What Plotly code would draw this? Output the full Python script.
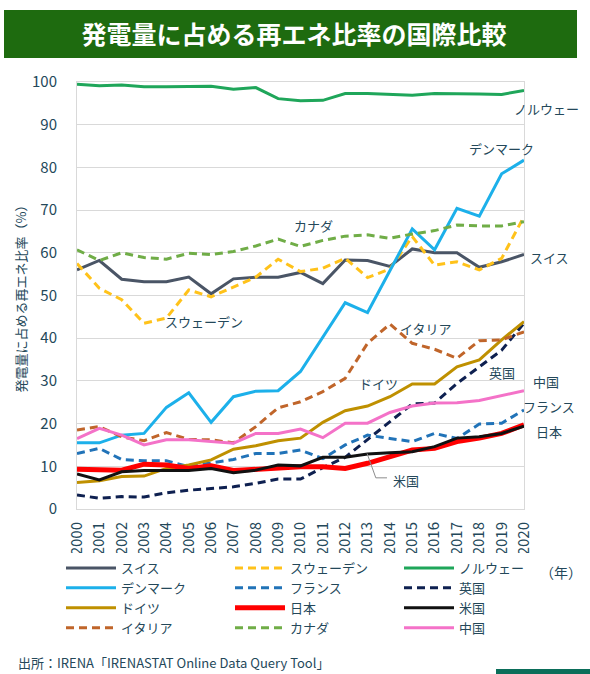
import plotly.graph_objects as go

# Share of renewables in electricity generation (%)
YEARS = list(range(2000, 2021))

SWITZERLAND = [56.0, 58.2, 53.8, 53.2, 53.2, 54.3, 50.4, 53.9, 54.3, 54.3, 55.4,
               52.8, 58.3, 58.2, 56.8, 60.9, 60.0, 60.0, 56.6, 57.9, 59.6]
SWEDEN = [57.5, 51.7, 49.0, 43.5, 44.7, 51.3, 49.7, 52.0, 54.3, 58.5, 55.6,
          56.4, 58.7, 54.2, 56.2, 63.8, 57.1, 57.9, 56.0, 58.7, 68.5]
NORWAY = [99.5, 99.1, 99.3, 98.9, 98.9, 98.9, 99.0, 98.3, 98.7, 96.1, 95.6,
          95.7, 97.3, 97.3, 97.1, 96.9, 97.3, 97.3, 97.2, 97.1, 98.0]
DENMARK = [15.5, 15.5, 17.3, 17.7, 23.8, 27.2, 20.3, 26.3, 27.6, 27.7, 32.2,
           40.2, 48.3, 46.0, 55.8, 65.6, 60.7, 70.4, 68.6, 78.5, 81.7]
FRANCE = [13.0, 14.2, 11.6, 11.3, 11.3, 9.9, 10.8, 11.6, 13.0, 13.0, 13.8,
          11.8, 15.0, 17.3, 16.5, 15.8, 17.7, 16.5, 19.9, 20.1, 23.2]
UK = [3.3, 2.5, 2.9, 2.8, 3.8, 4.4, 4.8, 5.2, 6.0, 7.0, 7.0,
      9.7, 12.1, 16.2, 20.5, 24.6, 24.8, 29.4, 33.3, 37.2, 43.5]
GERMANY = [6.2, 6.6, 7.6, 7.7, 9.5, 10.3, 11.5, 14.0, 14.8, 16.0, 16.6,
           20.3, 23.0, 24.1, 26.3, 29.3, 29.3, 33.3, 34.9, 39.6, 43.9]
JAPAN = [9.3, 9.1, 9.1, 10.5, 10.3, 9.5, 10.1, 9.0, 9.3, 9.5, 9.9,
         9.9, 9.5, 10.7, 12.3, 13.8, 14.2, 15.8, 16.6, 17.7, 19.7]
USA = [8.2, 6.8, 8.7, 9.0, 9.0, 9.0, 9.5, 8.5, 9.1, 10.3, 10.1,
       12.1, 12.1, 12.9, 13.2, 13.4, 14.6, 16.6, 16.9, 17.7, 19.4]
ITALY = [18.5, 19.3, 16.9, 16.0, 17.9, 16.3, 16.2, 15.5, 19.3, 23.7, 25.1,
         27.5, 30.6, 38.8, 43.3, 38.8, 37.4, 35.3, 39.4, 39.6, 41.5]
CANADA = [60.7, 58.2, 60.0, 58.9, 58.5, 59.9, 59.6, 60.3, 61.6, 63.2, 61.5,
          62.9, 63.9, 64.2, 63.4, 64.4, 65.2, 66.5, 66.3, 66.3, 67.3]
CHINA = [16.5, 18.9, 17.3, 15.0, 16.2, 16.2, 15.8, 15.4, 17.7, 17.7, 18.7,
         16.7, 20.1, 20.1, 22.6, 24.1, 24.8, 24.9, 25.4, 26.5, 27.7]

# legend order is row by row, three per row
SERIES = [
    ('スイス', SWITZERLAND, '#4a5566', 'solid', 3),
    ('スウェーデン', SWEDEN, '#ffc21a', 'dash', 3),
    ('ノルウェー', NORWAY, '#1fa65a', 'solid', 3),
    ('デンマーク', DENMARK, '#1cb0ea', 'solid', 3),
    ('フランス', FRANCE, '#2173b8', 'dash', 3),
    ('英国', UK, '#0e2050', 'dash', 3),
    ('ドイツ', GERMANY, '#bf9000', 'solid', 3),
    ('日本', JAPAN, '#ff0000', 'solid', 5),
    ('米国', USA, '#111111', 'solid', 3),
    ('イタリア', ITALY, '#c0652a', 'dash', 3),
    ('カナダ', CANADA, '#70ad47', 'dash', 3),
    ('中国', CHINA, '#f472c8', 'solid', 3),
]

# labels inside the plot: (text, year, value)
LABELS_IN = [
    ('デンマーク', 2019.0, 84.5),
    ('カナダ', 2010.6, 66.3),
    ('スウェーデン', 2005.7, 43.8),
    ('イタリア', 2015.6, 42.3),
    ('ドイツ', 2013.5, 29.5),
    ('英国', 2019.0, 31.9),
    ('米国', 2014.7, 6.6),
]
# labels right of the plot: (text, x pixel centre, value)
LABELS_OUT = [
    ('ノルウェー', 546, 93.9),
    ('スイス', 549, 59.0),
    ('中国', 546, 29.8),
    ('フランス', 549, 24.1),
    ('日本', 549, 18.2),
]

TEXT_COLOUR = '#24485a'
GRID_COLOUR = '#d9d9d9'
FONT = 'Noto Sans CJK JP'

W, H = 590, 674
L, R, T, B = 77, 66, 82, 165
PW, PH = W - L - R, H - T - B


def px(x):
    return (x - L) / PW


def py(y):
    return (H - B - y) / PH


fig = go.Figure()

for name, values, colour, dash, width in SERIES:
    fig.add_trace(go.Scatter(
        x=YEARS, y=values, name=name, mode='lines',
        line=dict(color=colour, width=width,
                  dash='8px,5px' if dash == 'dash' else 'solid'),
    ))

for text, x, y in LABELS_IN:
    fig.add_annotation(x=x, y=y, xref='x', yref='y', text=text,
                       showarrow=False, font=dict(size=13, color=TEXT_COLOUR))
for text, x, y in LABELS_OUT:
    fig.add_annotation(x=px(x), y=y, xref='paper', yref='y', text=text,
                       xanchor='center', yanchor='middle',
                       showarrow=False, font=dict(size=13, color=TEXT_COLOUR))

# leader line for the US label
fig.add_shape(type='path', xref='x', yref='y',
              path='M 2012.98,13.0 L 2013.37,7.3 L 2013.87,7.3',
              line=dict(color='#8c8c8c', width=1))

# title bar
fig.add_shape(type='rect', xref='paper', yref='paper',
              x0=px(4), x1=px(577), y0=py(58), y1=py(10),
              fillcolor='#1e6b0f', line=dict(width=0), layer='below')

# bottom-right accent bar
fig.add_shape(type='rect', xref='paper', yref='paper',
              x0=px(496), x1=px(600), y0=py(669), y1=py(680),
              fillcolor='#0b6e5a', line=dict(width=0))

fig.add_annotation(xref='paper', yref='paper', x=px(538), y=py(572),
                   xanchor='left', yanchor='middle', text='（年）',
                   showarrow=False, font=dict(size=14, color=TEXT_COLOUR))
fig.add_annotation(xref='paper', yref='paper', x=px(16), y=py(662),
                   xanchor='left', yanchor='middle',
                   text='出所：IRENA「IRENASTAT Online Data Query Tool」',
                   showarrow=False, font=dict(size=13, color=TEXT_COLOUR))

fig.update_layout(
    width=W, height=H,
    margin=dict(l=L, r=R, t=T, b=B),
    paper_bgcolor='white', plot_bgcolor='white',
    font=dict(family=FONT, color=TEXT_COLOUR, size=14),
    title=dict(text='<b>発電量に占める再エネ比率の国際比較</b>',
               x=294 / W, xanchor='center', y=1 - 35 / H, yanchor='middle',
               font=dict(size=25, color='white', family=FONT)),
    legend=dict(orientation='h', x=px(61), y=py(553),
                xanchor='left', yanchor='top',
                entrywidth=104, tracegroupgap=0, font=dict(size=13),
                itemwidth=50),
)
fig.update_xaxes(range=[2000, 2020], tickmode='array', tickvals=YEARS,
                 tickangle=-90, showgrid=False, showline=True, mirror=True,
                 linecolor=GRID_COLOUR, ticks='', tickfont=dict(size=15),
                 ticklabelstandoff=6)
fig.update_yaxes(range=[0, 100], dtick=10, showgrid=True, gridcolor=GRID_COLOUR,
                 zeroline=False, showline=True, mirror=True,
                 linecolor=GRID_COLOUR, ticks='', tickfont=dict(size=15),
                 ticklabelstandoff=16,
                 title=dict(text='発電量に占める再エネ比率（%）',
                            font=dict(size=13), standoff=2))

fig.write_html('out.html', config={'displayModeBar': False},
               post_script="document.body.style.margin='0';")
